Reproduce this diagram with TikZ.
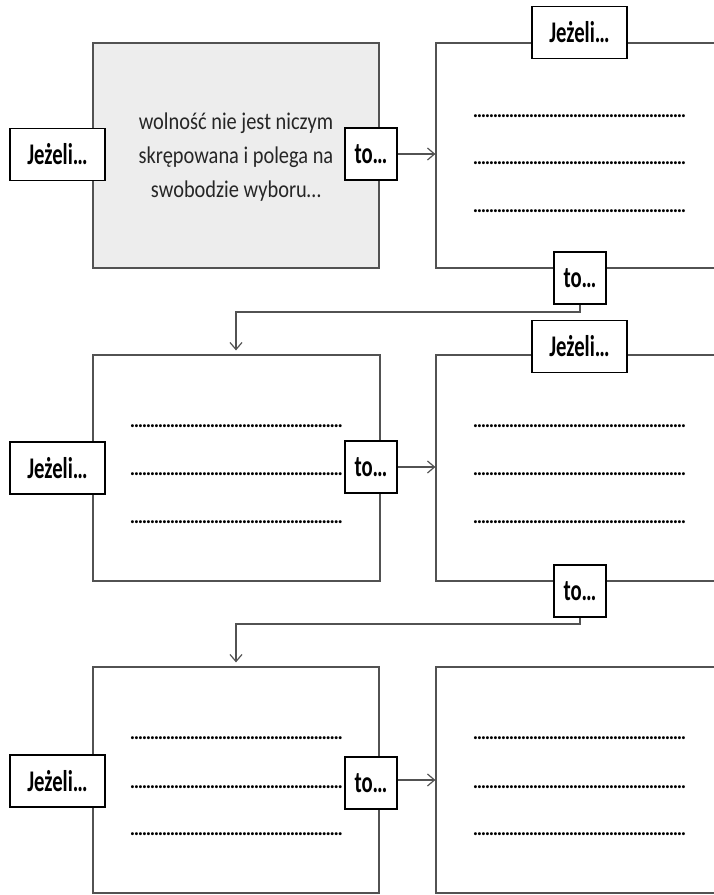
\documentclass[tikz,border=0pt]{standalone}
\usepackage{fontspec}
\setmainfont{Carlito}
\newfontfamily\lblfont[FakeStretch=0.69]{Carlito}
\newfontfamily\bodyfont[FakeStretch=0.85]{Carlito}
\usetikzlibrary{arrows.meta}

% a row of printed dots, used as an empty line to fill in
\newcommand{\dotrow}{\hbox to 213pt{\cleaders\hbox to 4pt{\hss.\hss}\hfill}}

\tikzset{
  frame/.style={draw=black!68, line width=1.2pt, inner sep=0pt},
  lbl/.style={draw=black, line width=1.8pt, fill=white, inner sep=0pt,
    font=\lblfont\bfseries\fontsize{30}{30}\selectfont},
  ifbox/.style={lbl, minimum width=95pt, minimum height=52pt},
  thenbox/.style={lbl, minimum width=52pt, minimum height=52pt},
  dotline/.style={inner sep=0pt, font=\bfseries\fontsize{20}{20}\selectfont},
  conn/.style={draw=black!68, line width=1.2pt},
  arr/.style={conn, -{Straight Barb[length=7pt,width=12pt]}}
}

\begin{document}
\begin{tikzpicture}[x=1pt, y=-1pt]
\useasboundingbox (0,0) rectangle (713,895);

% ---- row 1 ----
\node[frame, fill=black!7, minimum width=286pt, minimum height=225pt] (L1) at (236,155.5) {};
\node[frame, minimum width=324pt, minimum height=225pt] (R1) at (598,155.5) {};
\node[font=\bodyfont\fontsize{24}{34}\selectfont, align=center, text=black!85] (txt) at (236,157)
  {wolność nie jest niczym\\skrępowana i polega na\\swobodzie wyboru…};
\node[dotline] (d11) at (579.5,116) {\dotrow};
\node[dotline] (d12) at (579.5,163) {\dotrow};
\node[dotline] (d13) at (579.5,211) {\dotrow};
\node[ifbox] (J1) at (57.5,154.5) {Jeżeli…};
\node[thenbox] (T1) at (371,154) {to…};
\node[ifbox] (JR1) at (579.5,32.5) {Jeżeli…};
\node[thenbox] (TR1) at (580,278) {to…};
\draw[arr] (T1.east) -- (T1.east -| R1.west);

% ---- row 2 ----
\node[frame, minimum width=287pt, minimum height=226pt] (L2) at (236.5,468) {};
\node[frame, minimum width=324pt, minimum height=226pt] (R2) at (598,468) {};
\node[dotline] (d21) at (236.5,426) {\dotrow};
\node[dotline] (d22) at (236.5,474) {\dotrow};
\node[dotline] (d23) at (236.5,522) {\dotrow};
\node[dotline] (d24) at (579.5,426) {\dotrow};
\node[dotline] (d25) at (579.5,474) {\dotrow};
\node[dotline] (d26) at (579.5,522) {\dotrow};
\node[ifbox] (J2) at (57.5,468) {Jeżeli…};
\node[thenbox] (T2) at (371,467) {to…};
\node[ifbox] (JR2) at (579.5,346.5) {Jeżeli…};
\node[thenbox] (TR2) at (580,591) {to…};
\draw[arr] (T2.east) -- (T2.east -| R2.west);

% ---- row 3 ----
\node[frame, minimum width=286pt, minimum height=226pt] (L3) at (236,780) {};
\node[frame, minimum width=324pt, minimum height=226pt] (R3) at (598,780) {};
\node[dotline] (d31) at (236.5,738) {\dotrow};
\node[dotline] (d32) at (236.5,787) {\dotrow};
\node[dotline] (d33) at (236.5,834) {\dotrow};
\node[dotline] (d34) at (579.5,738) {\dotrow};
\node[dotline] (d35) at (579.5,787) {\dotrow};
\node[dotline] (d36) at (579.5,834) {\dotrow};
\node[ifbox] (J3) at (57.5,781) {Jeżeli…};
\node[thenbox] (T3) at (371,783) {to…};
\draw[arr] (T3.east |- 0,780) -- (R3.west |- 0,780);

% ---- links from one row to the next ----
\coordinate (k1) at (236,312);
\coordinate (k2) at (236,624);
\draw[arr, shorten >=4pt] (TR1.south) |- (k1) -- (k1 |- L2.north);
\draw[arr, shorten >=4pt] (TR2.south) |- (k2) -- (k2 |- L3.north);
\end{tikzpicture}
\end{document}
